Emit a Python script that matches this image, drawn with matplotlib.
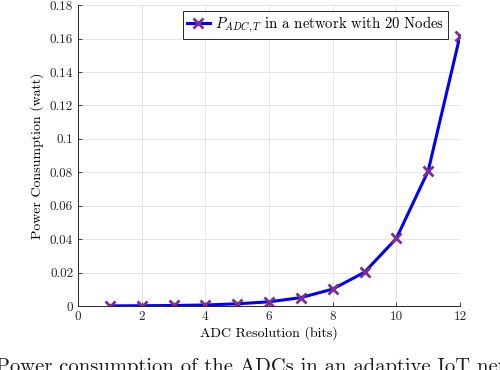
import matplotlib
matplotlib.use("Agg")
import matplotlib.pyplot as plt

bits = [1, 2, 3, 4, 5, 6, 7, 8, 9, 10, 11, 12]
power = [0.00008, 0.00016, 0.0003, 0.0006, 0.0013, 0.0025, 0.005, 0.0101, 0.0202, 0.0404, 0.0808, 0.1617]
xticks = [0, 2, 4, 6, 8, 10, 12]
yticks = [0, 0.02, 0.04, 0.06, 0.08, 0.1, 0.12, 0.14, 0.16, 0.18]
ytick_labels = ["0", "0.02", "0.04", "0.06", "0.08", "0.1", "0.12", "0.14", "0.16", "0.18"]

plt.rcParams['font.family'] = ['cmr10', 'DejaVu Serif']
plt.rcParams['mathtext.fontset'] = 'cm'
plt.rcParams['axes.formatter.use_mathtext'] = True

fig = plt.figure(figsize=(5, 3.7), dpi=100)
ax = fig.add_axes([0.156, 0.173, 0.764, 0.813])

ax.plot(bits, power, color=(0, 0, 1), lw=2.2, marker='x', markersize=6.5,
        markeredgewidth=2, markeredgecolor=(0.49, 0.18, 0.56),
        label=r'$P_{ADC,T}$ in a network with 20 Nodes')

ax.set_xlim(0, 12)
ax.set_ylim(0, 0.18)
ax.set_xticks(xticks)
ax.set_xticklabels([str(t) for t in xticks])
ax.set_yticks(yticks)
ax.set_yticklabels(ytick_labels)
ax.tick_params(labelsize=9.5, direction='in', length=3, width=0.6, color='#262626', labelcolor='#262626')
ax.grid(True, color='#e6e6e6', lw=0.7)
ax.set_axisbelow(True)
for s in ['top', 'right']:
    ax.spines[s].set_visible(False)
for s in ['left', 'bottom']:
    ax.spines[s].set_linewidth(0.7)
    ax.spines[s].set_color('#262626')

ax.set_xlabel('ADC Resolution (bits)', fontsize=10, labelpad=2)
ax.set_ylabel('Power Consumption (watt)', fontsize=10, labelpad=4)

leg = ax.legend(loc='upper right', bbox_to_anchor=(0.975, 0.99), fontsize=10.6,
                frameon=True, fancybox=False, edgecolor='#262626', framealpha=1,
                handlelength=1.6, handletextpad=0.3, borderpad=0.25, borderaxespad=0.2)
leg.get_frame().set_linewidth(0.7)

fig.text(-0.008, -0.006, 'Power consumption of the ADCs in an adaptive IoT network',
         fontsize=14.8, ha='left', va='baseline', color='#1a1a1a')

fig.savefig('out.png', dpi=100)
